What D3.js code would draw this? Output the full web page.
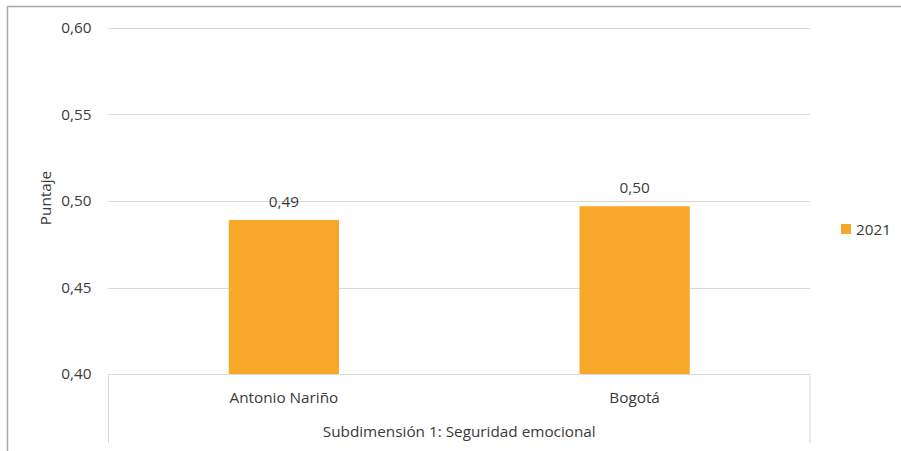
<!DOCTYPE html>
<html><head><meta charset="utf-8">
<script src="https://cdn.jsdelivr.net/npm/d3@7"></script>
<style>body{margin:0;background:#fff}svg{display:block}text{font-family:"Open Sans","Noto Sans",sans-serif;fill:#3a3a3a}</style>
</head><body><svg id="c" width="901" height="451"></svg>
<script>
const categories = ["Antonio Nariño", "Bogotá"];
const values2021 = [0.489, 0.497];
const valueLabels = ["0,49", "0,50"];
const yTicks = [0.40, 0.45, 0.50, 0.55, 0.60];
const groupLabel = "Subdimensión 1: Seguridad emocional";
const seriesName = "2021";
const yTitle = "Puntaje";

(function () {
const svg = d3.select("#c");
const pLeft = 108.5, pRight = 810, pTop = 28, pBottom = 374;
const fs = "15.3px";
const y = d3.scaleLinear().domain([0.40, 0.60]).range([pBottom, pTop]);
const x = d3.scaleBand().domain(categories).range([pLeft, pRight]).paddingInner(0.6857).paddingOuter(0.3429);
const fmt = d => d.toFixed(2).replace(".", ",");
const color = "#F8A829";

// outer border
svg.append("path").attr("d", "M7.5,451 V6.5 H901").attr("fill", "none").attr("stroke", "#a6a6a6").attr("stroke-width", 1.5);

// gridlines
svg.append("g").selectAll("line").data(yTicks.filter(t => t > 0.40)).join("line")
  .attr("x1", pLeft).attr("x2", pRight)
  .attr("y1", d => Math.round(y(d)) + 0.5).attr("y2", d => Math.round(y(d)) + 0.5)
  .attr("stroke", "#d9d9d9").attr("stroke-width", 1);

// y axis labels
const yAxis = d3.axisLeft(y).tickValues(yTicks).tickFormat(fmt).tickSize(0).tickPadding(17);
const ga = svg.append("g").attr("transform", `translate(${pLeft},0)`).call(yAxis);
ga.select(".domain").remove();
ga.selectAll("text").style("font-size", fs).attr("fill", "#3a3a3a").style("font-family", '"Open Sans","Noto Sans",sans-serif');

// bars
svg.append("g").selectAll("rect").data(categories).join("rect")
  .attr("x", d => x(d)).attr("width", x.bandwidth())
  .attr("y", (d, i) => y(values2021[i])).attr("height", (d, i) => y(0.40) - y(values2021[i]))
  .attr("fill", color);

// value labels
svg.append("g").selectAll("text").data(categories).join("text")
  .attr("x", d => x(d) + x.bandwidth() / 2).attr("y", (d, i) => y(values2021[i]) - 13)
  .attr("text-anchor", "middle").style("font-size", fs).text((d, i) => valueLabels[i]);

// category axis
svg.append("line").attr("x1", pLeft).attr("x2", pRight).attr("y1", pBottom + 0.5).attr("y2", pBottom + 0.5).attr("stroke", "#d9d9d9");
svg.append("g").selectAll("line").data([pLeft, pRight]).join("line")
  .attr("x1", d => d).attr("x2", d => d).attr("y1", pBottom).attr("y2", 443)
  .attr("stroke", "#d9d9d9");
svg.append("g").selectAll("text").data(categories).join("text")
  .attr("x", d => x(d) + x.bandwidth() / 2).attr("y", 403)
  .attr("text-anchor", "middle").style("font-size", fs).text(d => d);
svg.append("text").attr("x", (pLeft + pRight) / 2).attr("y", 437).attr("text-anchor", "middle")
  .style("font-size", fs).text(groupLabel);

// y title
svg.append("text").attr("transform", "translate(51,198) rotate(-90)").attr("text-anchor", "middle")
  .style("font-size", fs).text(yTitle);

// legend
const lg = svg.append("g").attr("transform", "translate(841,224)");
lg.append("rect").attr("width", 10).attr("height", 10).attr("fill", color);
lg.append("text").attr("x", 15).attr("y", 10.5).style("font-size", fs).text(seriesName);
})();
</script></body></html>
